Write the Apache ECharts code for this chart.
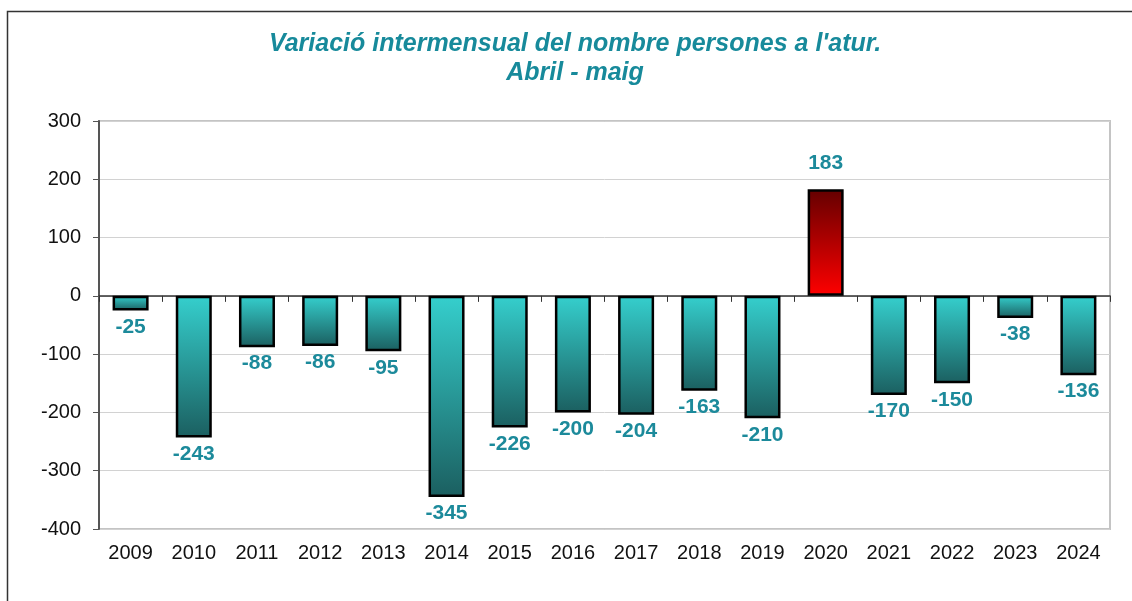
<!DOCTYPE html>
<html>
<head>
<meta charset="utf-8">
<script src="https://cdn.jsdelivr.net/npm/echarts@6/dist/echarts.min.js"></script>
<style>
  html, body { margin: 0; padding: 0; background: #fff; }
  #container { width: 1132px; height: 601px; }
</style>
</head>
<body>
<div id="container"></div>
<script>
const years = ['2009', '2010', '2011', '2012', '2013', '2014', '2015', '2016',
  '2017', '2018', '2019', '2020', '2021', '2022', '2023', '2024']
const variation = [-25, -243, -88, -86, -95, -345, -226, -200, -204, -163, -210, 183, -170, -150, -38, -136]
const yTicks = { min: -400, max: 300, interval: 100 }

const font = '"Liberation Sans", Arial, sans-serif'
const labelColor = '#1C8A9B'

const tealFill = new echarts.graphic.LinearGradient(0, 0, 0, 1, [
  { offset: 0, color: '#35CFCD' },
  { offset: 1, color: '#1B5F60' }
])
const redFill = new echarts.graphic.LinearGradient(0, 0, 0, 1, [
  { offset: 0, color: '#640000' },
  { offset: 1, color: '#FF0000' }
])

const barData = variation.map(v => ({
  value: v,
  itemStyle: { color: v >= 0 ? redFill : tealFill },
  label: { position: v >= 0 ? 'top' : 'bottom', distance: v >= 0 ? 15 : 6 }
}))

let myChart = echarts.init(document.getElementById('container'), null, { renderer: 'canvas' })
let option = {
  animation: false,
  backgroundColor: '#fff',
  title: {
    text: "Variació intermensual del nombre persones a l'atur.\nAbril - maig",
    left: 570,
    textAlign: 'center',
    top: 25,
    textStyle: {
      fontFamily: font,
      fontSize: 25,
      fontWeight: 'bold',
      fontStyle: 'italic',
      color: '#178A9B',
      lineHeight: 29
    }
  },
  graphic: [
    {
      type: 'rect',
      shape: { x: 7.5, y: 11.5, width: 1200, height: 700 },
      style: { fill: 'none', stroke: '#333', lineWidth: 1.5 },
      silent: true
    }
  ],
  grid: {
    left: 99,
    right: 22,
    top: 121,
    bottom: 72,
    show: true,
    borderColor: '#c4c4c4',
    borderWidth: 2
  },
  xAxis: [
    {
      type: 'category',
      data: years,
      position: 'bottom',
      axisLine: { onZero: true, lineStyle: { color: '#333', width: 1.5 } },
      axisTick: { show: true, length: 6, lineStyle: { color: '#333' } },
      axisLabel: { show: false },
      splitLine: { show: false }
    },
    {
      type: 'category',
      data: years,
      position: 'bottom',
      axisLine: { show: false, onZero: false },
      axisTick: { show: false },
      axisLabel: {
        show: true,
        margin: 14,
        fontFamily: font,
        fontSize: 20,
        color: '#111'
      }
    }
  ],
  yAxis: {
    type: 'value',
    min: yTicks.min,
    max: yTicks.max,
    interval: yTicks.interval,
    axisLine: { show: true, lineStyle: { color: '#555', width: 2 } },
    axisTick: { show: true, length: 6, lineStyle: { color: '#555' } },
    axisLabel: {
      margin: 18,
      fontFamily: font,
      fontSize: 20,
      color: '#111'
    },
    splitLine: { show: true, lineStyle: { color: '#d2d2d2', width: 1 } }
  },
  series: [
    {
      name: 'Variació',
      type: 'bar',
      xAxisIndex: 0,
      barWidth: '57%',
      data: barData,
      itemStyle: { borderColor: '#000', borderWidth: 2.5 },
      label: {
        show: true,
        fontFamily: font,
        fontSize: 21,
        fontWeight: 'bold',
        color: labelColor
      }
    }
  ]
}
myChart.setOption(option)
</script>
</body>
</html>
